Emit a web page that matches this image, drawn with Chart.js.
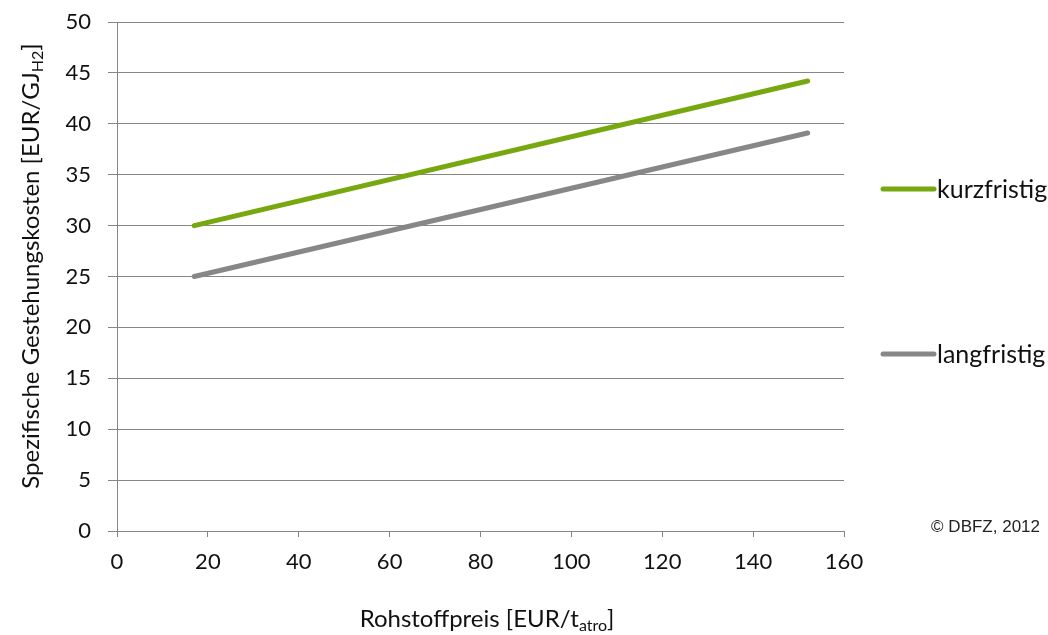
<!DOCTYPE html>
<html>
<head>
<meta charset="utf-8">
<script src="https://cdn.jsdelivr.net/npm/chart.js@4/dist/chart.umd.min.js"></script>
<style>
  html, body { margin: 0; padding: 0; background: #fff; }
  #wrap { width: 1048px; height: 635px; }
</style>
</head>
<body>
<div id="wrap"><canvas id="lineChart" width="1048" height="635"></canvas></div>
<script>
// Rohstoffpreis (x) und spezifische Gestehungskosten (y)
const rohstoffpreis = [17, 152];
const kurzfristig = [30, 44.2];
const langfristig = [25, 39.1];
const serienNamen = ['kurzfristig', 'langfristig'];
const serienFarben = ['#77A80F', '#878787'];
const xTicks = [0, 20, 40, 60, 80, 100, 120, 140, 160];
const yTicks = [0, 5, 10, 15, 20, 25, 30, 35, 40, 45, 50];

const FONT = 'Lato, "Open Sans", sans-serif';
const GRID = '#868686';
const TEXT = '#111';

function punkte(werte) {
    return rohstoffpreis.map((x, i) => ({ x: x, y: werte[i] }));
}

// Achsentitel mit Tiefstellung, Legende rechts und Copyright
function textMitIndex(ctx, haupt, index, rest, size) {
    ctx.font = size + 'px ' + FONT;
    const w1 = ctx.measureText(haupt).width;
    ctx.font = Math.round(size * 0.65) + 'px ' + FONT;
    const w2 = ctx.measureText(index).width;
    ctx.font = size + 'px ' + FONT;
    const w3 = ctx.measureText(rest).width;
    return { w1, w2, w3, total: w1 + w2 + w3 };
}

function zeichneIndexText(ctx, haupt, index, rest, size, cx, cy) {
    const m = textMitIndex(ctx, haupt, index, rest, size);
    let x = cx - m.total / 2;
    ctx.textAlign = 'left';
    ctx.textBaseline = 'middle';
    ctx.font = size + 'px ' + FONT;
    ctx.fillText(haupt, x, cy);
    x += m.w1;
    ctx.font = Math.round(size * 0.65) + 'px ' + FONT;
    ctx.fillText(index, x, cy + size * 0.3);
    x += m.w2;
    ctx.font = size + 'px ' + FONT;
    ctx.fillText(rest, x, cy);
}

const extras = {
    id: 'extras',
    afterDraw(chart) {
        const ctx = chart.ctx;
        ctx.save();
        ctx.fillStyle = TEXT;

        // x-Achsentitel
        zeichneIndexText(ctx, 'Rohstoffpreis [EUR/t', 'atro', ']', 24, 487, 619);

        // y-Achsentitel
        ctx.save();
        ctx.translate(31, 266);
        ctx.rotate(-Math.PI / 2);
        zeichneIndexText(ctx, 'Spezifische Gestehungskosten [EUR/GJ', 'H2', ']', 24, 0, 0);
        ctx.restore();

        // Legende
        const legY = [189, 354];
        chart.data.datasets.forEach((ds, i) => {
            ctx.strokeStyle = ds.borderColor;
            ctx.lineWidth = 5;
            ctx.lineCap = 'round';
            ctx.beginPath();
            ctx.moveTo(883, legY[i]);
            ctx.lineTo(934, legY[i]);
            ctx.stroke();
            ctx.fillStyle = TEXT;
            ctx.font = '25px ' + FONT;
            ctx.textAlign = 'left';
            ctx.textBaseline = 'middle';
            ctx.fillText(ds.label, 937, legY[i] + 1);
        });

        // Copyright
        ctx.font = '17px "Liberation Sans", Arial, sans-serif';
        ctx.textAlign = 'right';
        ctx.textBaseline = 'middle';
        ctx.fillStyle = '#222';
        ctx.fillText('\u00A9 DBFZ, 2012', 1040, 527);
        ctx.restore();
    }
};

const ctxLine = document.getElementById('lineChart').getContext('2d');
const lineChart = new Chart(ctxLine, {
    type: 'line',
    data: {
        datasets: [
            {
                label: serienNamen[0],
                data: punkte(kurzfristig),
                borderColor: serienFarben[0],
                borderWidth: 5,
                borderCapStyle: 'round',
                pointRadius: 0,
                fill: false
            },
            {
                label: serienNamen[1],
                data: punkte(langfristig),
                borderColor: serienFarben[1],
                borderWidth: 5,
                borderCapStyle: 'round',
                pointRadius: 0,
                fill: false
            }
        ]
    },
    options: {
        responsive: false,
        animation: false,
        layout: { padding: { top: 22, right: 204, left: 0, bottom: 0 } },
        plugins: {
            legend: { display: false },
            tooltip: { enabled: false }
        },
        scales: {
            x: {
                type: 'linear',
                min: 0,
                max: 160,
                afterBuildTicks: (axis) => { axis.ticks = xTicks.map(v => ({ value: v })); },
                afterFit: (axis) => { axis.height = 104; },
                grid: {
                    drawOnChartArea: false,
                    color: GRID,
                    tickLength: 6,
                    tickWidth: 1
                },
                border: { display: true, color: GRID, width: 1 },
                ticks: {
                    color: TEXT,
                    font: { family: FONT, size: 22 },
                    padding: 12,
                    maxRotation: 0
                }
            },
            y: {
                min: 0,
                max: 50,
                afterBuildTicks: (axis) => { axis.ticks = yTicks.map(v => ({ value: v })); },
                afterFit: (axis) => {
                    axis.width = 117;
                    axis.paddingTop = 0;
                    axis.paddingBottom = 0;
                },
                grid: {
                    color: GRID,
                    tickLength: 9,
                    lineWidth: 1
                },
                border: { display: true, color: GRID, width: 1 },
                ticks: {
                    color: TEXT,
                    font: { family: FONT, size: 22 },
                    padding: 17
                }
            }
        }
    },
    plugins: [extras]
});
</script>
</body>
</html>
